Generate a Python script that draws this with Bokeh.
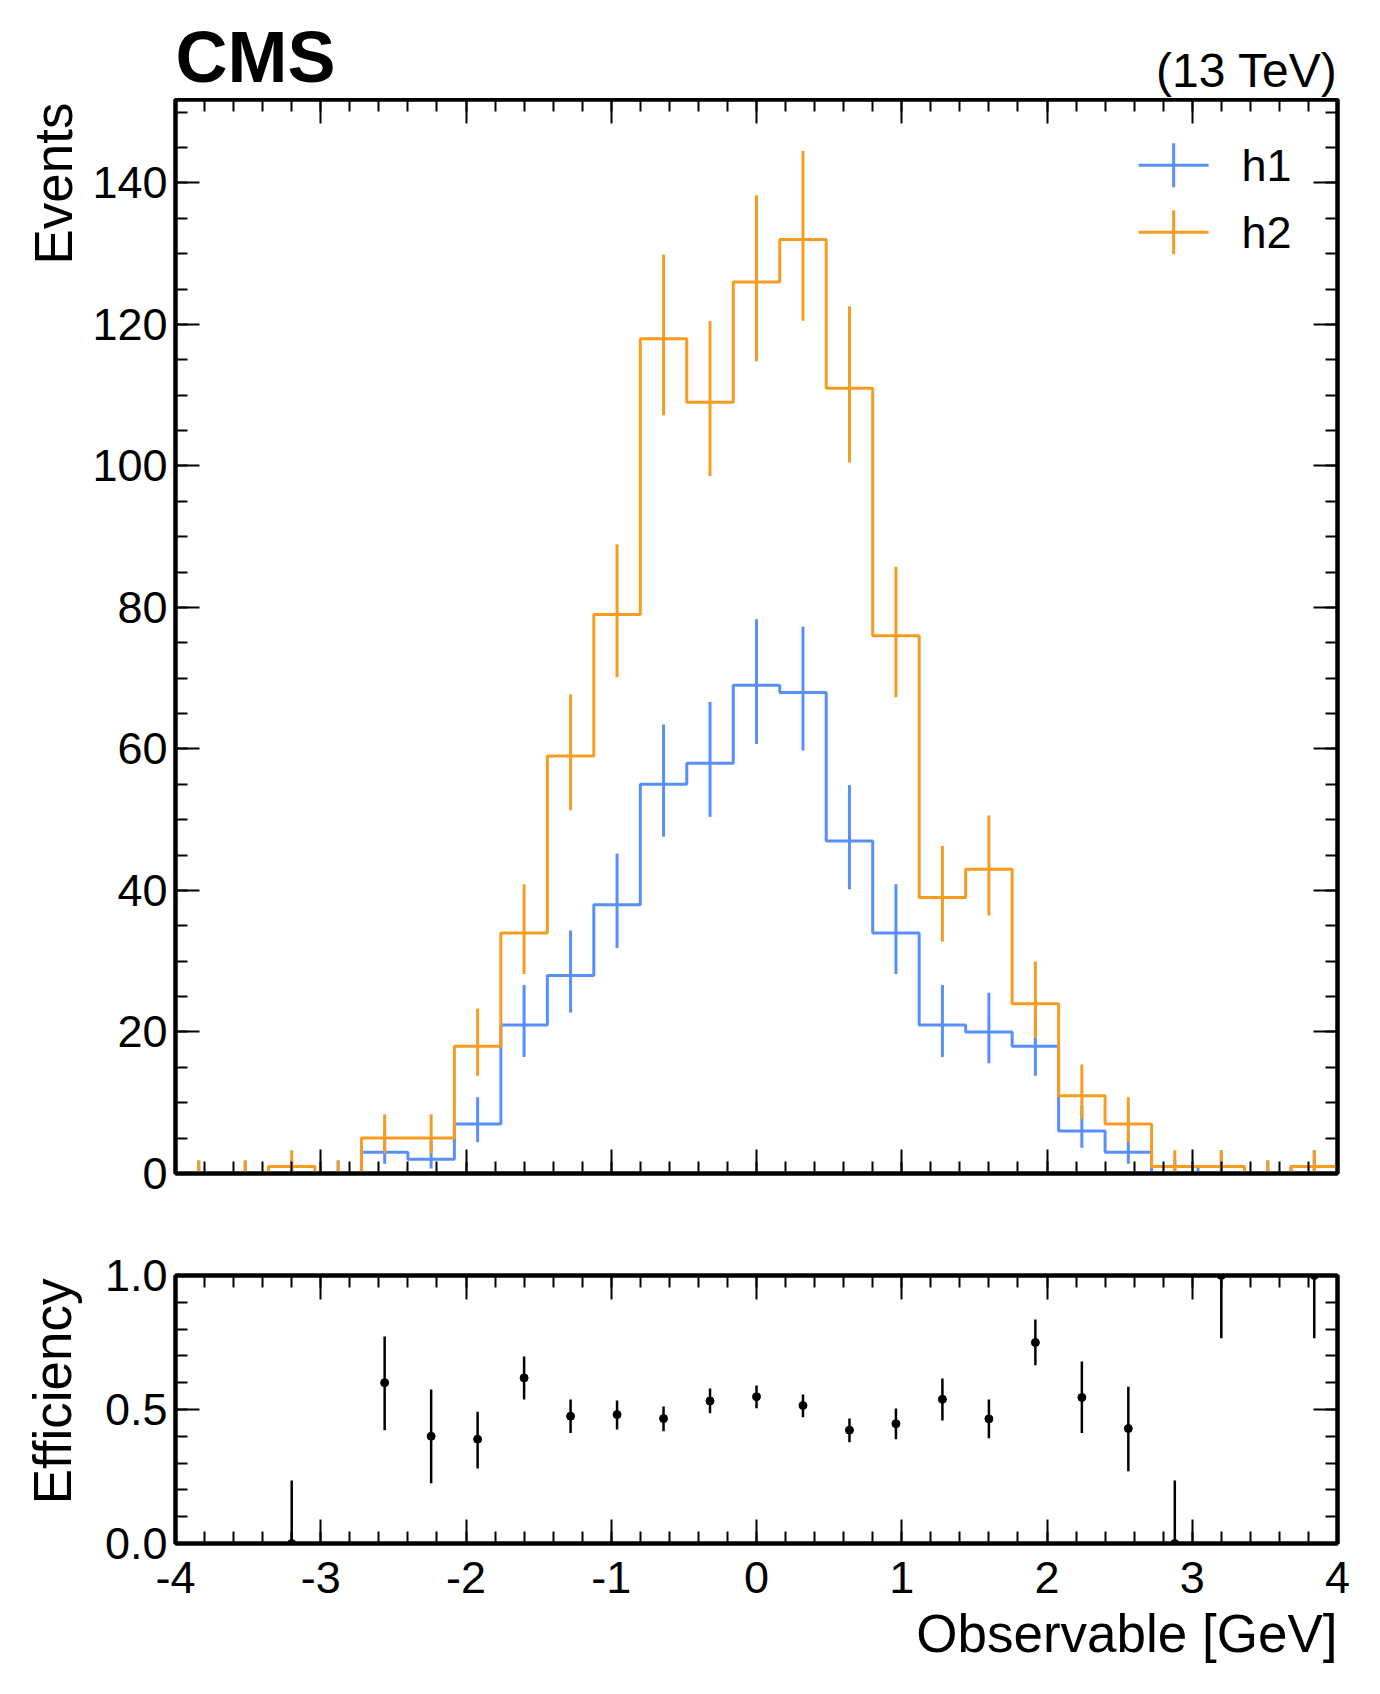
import numpy as np
from bokeh.plotting import figure
from bokeh.layouts import column
from bokeh.models import (Range1d, LinearAxis, SingleIntervalTicker, Title,
                          PrintfTickFormatter, CustomJSTickFormatter)
from bokeh.embed import file_html
from bokeh.resources import INLINE
from bokeh.core.properties import value

# ---------------- data ----------------
x_min, x_max, n_bins = -4.0, 4.0, 25
h1_counts = [0, 0, 0, 0, 3, 2, 7, 21, 28, 38, 55, 58, 69, 68, 47, 34, 21, 20, 18, 6, 3, 0, 1, 0, 1]
h2_counts = [0, 0, 1, 0, 5, 5, 18, 34, 59, 79, 118, 109, 126, 132, 111, 76, 39, 43, 24, 11, 7, 1, 1, 0, 1]
series_names = ["h1", "h2"]

nan = float("nan")
eff_values = [nan, nan, 0.0, nan, 0.600, 0.400, 0.389, 0.618, 0.475, 0.481, 0.466, 0.532, 0.548,
              0.515, 0.423, 0.447, 0.538, 0.465, 0.750, 0.545, 0.429, 0.0, 1.0, nan, 1.0]
eff_low = [nan, nan, 0.0, nan, 0.423, 0.225, 0.280, 0.537, 0.412, 0.425, 0.419, 0.486, 0.505,
           0.471, 0.378, 0.389, 0.459, 0.393, 0.665, 0.412, 0.270, 0.0, 0.766, nan, 0.766]
eff_high = [nan, nan, 0.235, nan, 0.772, 0.575, 0.492, 0.698, 0.537, 0.534, 0.511, 0.578, 0.590,
            0.556, 0.466, 0.504, 0.616, 0.537, 0.836, 0.679, 0.585, 0.235, 1.0, nan, 1.0]

top_y_max = 151.8
title_left = "CMS"
title_right = "(13 TeV)"
y_label_top = "Events"
y_label_bottom = "Efficiency"
x_label = "Observable [GeV]"

# ---------------- styling ----------------
FONT = "Liberation Sans"
C_H1 = "#5790fc"
C_H2 = "#f89c20"
FRAME_W = 1162
TOP_H = 1074
BOT_H = 268
HEADER_H = 98
BORDER_L = 175
BORDER_R = 30

edges = np.linspace(x_min, x_max, n_bins + 1)
centers = 0.5 * (edges[:-1] + edges[1:])


def poisson_errors(counts):
    """Approximate Garwood (68%) interval -> (down error, up error)."""
    n = np.asarray(counts, dtype=float)
    safe = np.maximum(n, 1.0)
    lower = np.where(n > 0, safe * (1 - 1 / (9 * safe) - 1 / (3 * np.sqrt(safe))) ** 3, 0.0)
    m = n + 1.0
    upper = m * (1 - 1 / (9 * m) + 1 / (3 * np.sqrt(m))) ** 3
    return n - lower, upper - n


def style_axis(ax, ticker, show_labels, standoff=8):
    ax.ticker = ticker
    ax.major_tick_in = 24
    ax.major_tick_out = 0
    ax.minor_tick_in = 12
    ax.minor_tick_out = 0
    ax.major_tick_line_width = 2
    ax.minor_tick_line_width = 2
    ax.major_tick_line_color = "black"
    ax.minor_tick_line_color = "black"
    ax.axis_line_width = 4
    ax.axis_line_color = "black"
    ax.major_label_text_font = FONT
    ax.major_label_text_color = "black"
    if show_labels:
        ax.major_label_text_font_size = "45px"
        ax.major_label_standoff = standoff
    else:
        ax.major_label_text_font_size = "0px"
        ax.major_label_standoff = 0
        ax.formatter = CustomJSTickFormatter(code="return ''")


def side_title(text, standoff, vertical_align, offset=0):
    return Title(text=text, align="right", vertical_align=vertical_align,
                 offset=offset, standoff=standoff,
                 text_font=FONT, text_font_size="53px", text_font_style="normal",
                 text_color="black")


def make_fig(frame_h, y_range, top_border, bottom_border, x_range):
    p = figure(frame_width=FRAME_W, frame_height=frame_h, x_range=x_range, y_range=y_range,
               output_backend="svg", toolbar_location=None,
               min_border_left=BORDER_L, min_border_right=BORDER_R,
               min_border_top=top_border, min_border_bottom=bottom_border)
    p.xgrid.grid_line_color = None
    p.ygrid.grid_line_color = None
    p.outline_line_color = "black"
    p.outline_line_width = 4
    p.background_fill_color = "white"
    p.border_fill_color = "white"
    return p


x_range = Range1d(x_min, x_max)

# ---------------- header (experiment label / energy) ----------------
ph = figure(frame_width=FRAME_W, frame_height=HEADER_H, x_range=x_range,
            y_range=Range1d(0, HEADER_H), output_backend="svg", toolbar_location=None,
            x_axis_location=None, y_axis_location=None,
            min_border_left=BORDER_L, min_border_right=BORDER_R,
            min_border_top=0, min_border_bottom=0)
ph.xgrid.grid_line_color = None
ph.ygrid.grid_line_color = None
ph.outline_line_color = None
ph.text(x=[x_min], y=[42], text=[title_left], text_font=value(FONT), text_font_style="bold",
        text_font_size="72px", text_align="left", text_baseline="middle", text_color="black")
ph.text(x=[x_max], y=[28], text=[title_right], text_font=value(FONT),
        text_font_size="48px", text_align="right", text_baseline="middle", text_color="black")

# ---------------- top panel ----------------
p1 = make_fig(TOP_H, Range1d(0, top_y_max), 1, 50, x_range)

style_axis(p1.xaxis[0], SingleIntervalTicker(interval=1, num_minor_ticks=5), False)
style_axis(p1.yaxis[0], SingleIntervalTicker(interval=20, num_minor_ticks=4), True)
ax_top = LinearAxis()
style_axis(ax_top, SingleIntervalTicker(interval=1, num_minor_ticks=5), False)
p1.add_layout(ax_top, "above")
ax_right = LinearAxis()
style_axis(ax_right, SingleIntervalTicker(interval=20, num_minor_ticks=4), False)
p1.add_layout(ax_right, "right")
p1.add_layout(side_title(y_label_top, 14, "bottom", offset=3), "left")

for counts, color in ((h1_counts, C_H1), (h2_counts, C_H2)):
    c = np.asarray(counts, dtype=float)
    p1.step(x=edges, y=np.append(c, c[-1]), mode="after", line_color=color, line_width=3)
    dn, up = poisson_errors(c)
    p1.segment(x0=centers, y0=c - dn, x1=centers, y1=c + up, line_color=color, line_width=3)

# legend (error-bar crosses, upper right)
leg_x = x_min + 0.859 * (x_max - x_min)
leg_half_w = 35 / FRAME_W * (x_max - x_min)
leg_half_h = 22 / TOP_H * top_y_max
leg_ys = [top_y_max * 0.9387, top_y_max * 0.8763]
text_x = x_min + 0.9174 * (x_max - x_min)
for name, color, ly in zip(series_names, (C_H1, C_H2), leg_ys):
    p1.segment(x0=[leg_x - leg_half_w], y0=[ly], x1=[leg_x + leg_half_w], y1=[ly],
               line_color=color, line_width=3)
    p1.segment(x0=[leg_x], y0=[ly - leg_half_h], x1=[leg_x], y1=[ly + leg_half_h],
               line_color=color, line_width=3)
    p1.text(x=[text_x], y=[ly], text=[name], text_font=value(FONT),
            text_font_size="45px", text_align="left", text_baseline="middle",
            text_color="black")

# ---------------- bottom panel ----------------
p2 = make_fig(BOT_H, Range1d(0, 1), 52, 130, x_range)
style_axis(p2.xaxis[0], SingleIntervalTicker(interval=1, num_minor_ticks=5), True, standoff=18)
p2.xaxis[0].formatter = CustomJSTickFormatter(code="return tick.toFixed(0)")
style_axis(p2.yaxis[0], SingleIntervalTicker(interval=0.5, num_minor_ticks=5), True)
p2.yaxis[0].formatter = PrintfTickFormatter(format="%.1f")
ax_top2 = LinearAxis()
style_axis(ax_top2, SingleIntervalTicker(interval=1, num_minor_ticks=5), False)
p2.add_layout(ax_top2, "above")
ax_right2 = LinearAxis()
style_axis(ax_right2, SingleIntervalTicker(interval=0.5, num_minor_ticks=5), False)
p2.add_layout(ax_right2, "right")
p2.add_layout(side_title(y_label_bottom, 40, "bottom", offset=3), "left")
p2.add_layout(side_title(x_label, 16, "top", offset=0), "below")

eff = np.asarray(eff_values, dtype=float)
elo = np.asarray(eff_low, dtype=float)
ehi = np.asarray(eff_high, dtype=float)
mask = ~np.isnan(eff)
p2.segment(x0=centers[mask], y0=elo[mask], x1=centers[mask], y1=ehi[mask],
           line_color="black", line_width=2.5)
p2.scatter(x=centers[mask], y=eff[mask], size=8, color="black")

layout = column(ph, p1, p2, spacing=0)
open("out.html", "w").write(file_html(layout, INLINE))
